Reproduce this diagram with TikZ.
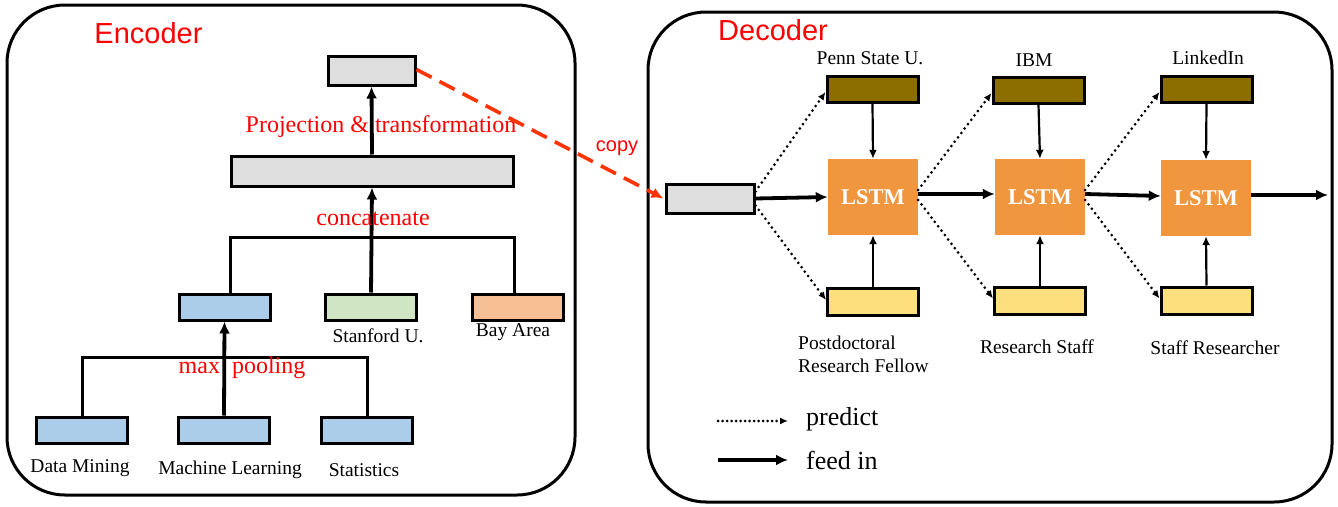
\documentclass[tikz,border=0pt]{standalone}
\usepackage{fontspec}
\setmainfont{Liberation Serif}
\newfontfamily\sansfont{Liberation Sans}
\usetikzlibrary{arrows.meta}
\definecolor{boxgray}{HTML}{DEDEDE}
\definecolor{boxblue}{HTML}{ABCDEA}
\definecolor{boxgreen}{HTML}{CFE5C4}
\definecolor{boxorange}{HTML}{F6BF94}
\definecolor{boxbrown}{HTML}{8C6D00}
\definecolor{lstmorange}{HTML}{F0963F}
\definecolor{boxyellow}{HTML}{FEDF7E}
\definecolor{copyred}{HTML}{FF3300}
\tikzset{
  frame/.style={draw=black, line width=3pt, rounded corners=58pt, inner sep=0pt},
  cell/.style={draw=black, line width=3pt, inner sep=0pt, minimum width=91pt, minimum height=26pt},
  lstmbox/.style={fill=lstmorange, inner sep=0pt, minimum width=90pt, minimum height=76pt,
     text=white, font=\fontsize{22.5}{26}\selectfont\bfseries},
  redlabel/.style={text=red, inner sep=0pt, font=\fontsize{24}{28}\selectfont},
  titlelabel/.style={text=red, inner sep=0pt, font=\sansfont\fontsize{29}{32}\selectfont},
  blacklabel/.style={text=black, inner sep=0pt, font=\fontsize{19.5}{23}\selectfont},
  legendlabel/.style={text=black, inner sep=0pt, font=\fontsize{26}{30}\selectfont, anchor=west},
  thickarrow/.style={line width=3.8pt, -{Latex[length=12pt,width=11pt]}},
  thinarrow/.style={line width=2.2pt, -{Latex[length=9pt,width=8pt]}},
  plainline/.style={line width=3pt},
  dotarrow/.style={line width=3pt, line cap=round, dash pattern=on 0pt off 5.5pt,
     -{Latex[length=8pt,width=7pt]}},
  copyarrow/.style={line width=3.6pt, draw=copyred, dash pattern=on 17pt off 9pt,
     -{Latex[length=12pt,width=11pt]}},
}
\begin{document}
\begin{tikzpicture}[x=1pt,y=-1pt]
\useasboundingbox (0,0) rectangle (1338,506);
% frames
\node[frame, minimum width=568pt, minimum height=490pt] (encframe) at (291,250) {};
\node[frame, minimum width=684pt, minimum height=490pt] (decframe) at (990,257) {};
\node[titlelabel] (enctitle) at (148.5,33) {Encoder};
\node[titlelabel] (dectitle) at (773,30) {Decoder};

% ---------- Encoder ----------
\node[cell, fill=boxgray, minimum width=87pt, minimum height=29pt] (proj) at (371.5,70.5) {};
\node[cell, fill=boxgray, minimum width=282pt, minimum height=30pt] (concat) at (372,171) {};
\node[cell, fill=boxblue] (pool) at (224.5,307) {};
\node[cell, fill=boxgreen] (stan) at (371,307) {};
\node[cell, fill=boxorange] (bay) at (517.5,307) {};
\node[cell, fill=boxblue] (dm) at (82,430) {};
\node[cell, fill=boxblue] (ml) at (224,430) {};
\node[cell, fill=boxblue] (st) at (367,430) {};

\node[blacklabel] (stanlab) at (378,336) {Stanford U.};
\node[blacklabel] (baylab) at (513,332) {Bay Area};
\node[blacklabel] (dmlab) at (80,468) {Data Mining};
\node[blacklabel] (mllab) at (230,470) {Machine Learning};
\node[blacklabel] (stlab) at (364,470) {Statistics};

% concatenate bracket
\coordinate (cl) at (230,237);
\coordinate (cr) at (514,237);
\draw[plainline] (pool.north -| cl) -- (cl) -- (cr) -- (bay.north -| cr);
\draw[thickarrow] (stan.north) -- (concat.south);
\draw[thickarrow] (concat.north) -- (proj.south);

% max pooling bracket
\coordinate (pl) at (82,357);
\coordinate (pr) at (367,357);
\draw[plainline] (dm.north) -- (pl) -- (pr) -- (st.north);
\draw[thickarrow] (ml.north) -- (pool.south);

\node[redlabel] (projlab) at (381,127) {Projection \& transformation};
\node[redlabel] (catlab) at (373,219) {concatenate};
\node[redlabel] (poollab) at (242,368) {max~~pooling};

% ---------- Decoder ----------
\node[cell, fill=boxgray, minimum width=88pt, minimum height=29pt] (inp) at (710,198.5) {};
\node[cell, fill=boxbrown] (b1) at (872.5,89) {};
\node[cell, fill=boxbrown] (b2) at (1038.5,90) {};
\node[cell, fill=boxbrown] (b3) at (1206.5,89) {};
\node[lstmbox] (l1) at (873,197) {LSTM};
\node[lstmbox] (l2) at (1040,197) {LSTM};
\node[lstmbox] (l3) at (1206,198) {LSTM};
\node[cell, fill=boxyellow, minimum height=27pt] (y1) at (873,302) {};
\node[cell, fill=boxyellow, minimum height=27pt] (y2) at (1040,300.5) {};
\node[cell, fill=boxyellow, minimum height=27pt] (y3) at (1206.5,300.5) {};
\coordinate (outend) at (1328,195);

\node[blacklabel] (b1lab) at (870,58) {Penn State U.};
\node[blacklabel] (b2lab) at (1034,60) {IBM};
\node[blacklabel] (b3lab) at (1208,58) {LinkedIn};
\node[blacklabel, align=left, anchor=west, font=\fontsize{19.5}{23.5}\selectfont] (y1lab) at (798,354.5) {Postdoctoral\\Research Fellow};
\node[blacklabel] (y2lab) at (1037,347) {Research Staff};
\node[blacklabel] (y3lab) at (1215,348) {Staff Researcher};

% feed-in arrows
\draw[thickarrow] (inp.east) -- (l1.west);
\draw[thickarrow] ([yshift=3pt]l1.east) -- ([yshift=3pt]l2.west);
\draw[thickarrow] ([yshift=3pt]l2.east) -- ([yshift=2pt]l3.west);
\draw[thickarrow] ([yshift=3pt]l3.east) -- (outend);
\foreach \i in {1,2,3}{
  \draw[thinarrow] (b\i.south) -- (l\i.north);
  \draw[thinarrow] (y\i.north) -- (l\i.south);
}
% predict arrows
\draw[dotarrow] ([yshift=7pt]inp.east) -- ([yshift=-3pt]b1.west);
\draw[dotarrow] ([yshift=-7pt]inp.east) -- ([yshift=2pt]y1.west);
\draw[dotarrow] ([yshift=7pt]l1.east) -- ([yshift=-3pt]b2.west);
\draw[dotarrow] ([yshift=-3pt]l1.east) -- ([yshift=2pt]y2.west);
\draw[dotarrow] ([yshift=7pt]l2.east) -- ([yshift=-3pt]b3.west);
\draw[dotarrow] ([yshift=-3pt]l2.east) -- ([yshift=2pt]y3.west);

% copy arrow
\draw[copyarrow] ([yshift=1pt]proj.east) -- ([xshift=-1pt]inp.west);
\node[text=red, inner sep=0pt, font=\sansfont\fontsize{20}{24}\selectfont] (copylab) at (617,148) {copy};

% legend
\coordinate (lg1a) at (718,421);
\coordinate (lg1b) at (788,421);
\coordinate (lg2a) at (718,460);
\coordinate (lg2b) at (788,460);
\draw[dotarrow, dash pattern=on 0pt off 4.5pt] (lg1a) -- (lg1b);
\draw[thickarrow] (lg2a) -- (lg2b);
\node[legendlabel] (predlab) at (806,419) {predict};
\node[legendlabel] (feedlab) at (806,460) {feed in};
\end{tikzpicture}
\end{document}
